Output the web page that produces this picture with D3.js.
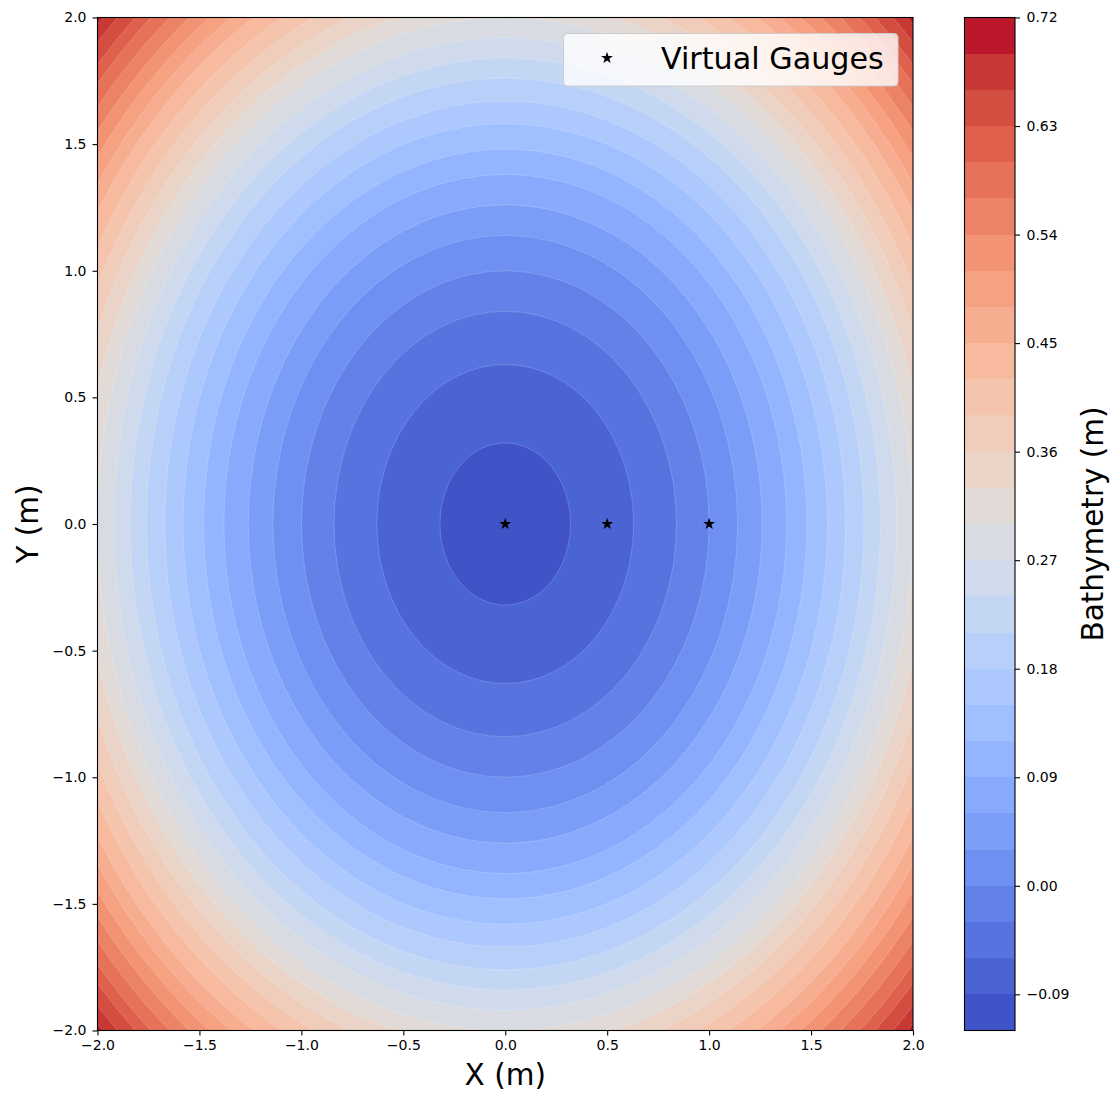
<!DOCTYPE html>
<html>
<head>
<meta charset="utf-8">
<script src="https://cdn.jsdelivr.net/npm/d3@7"></script>
<style>
  body { margin: 0; background: #fff; }
  text { font-family: "DejaVu Sans", sans-serif; }
</style>
</head>
<body>
<div id="chart"></div>
<script>
// contour levels (m), as on the colorbar
const levels = [-0.12, -0.09, -0.06, -0.03, 0.00, 0.03, 0.06, 0.09, 0.12, 0.15,
  0.18, 0.21, 0.24, 0.27, 0.30, 0.33, 0.36, 0.39, 0.42, 0.45,
  0.48, 0.51, 0.54, 0.57, 0.60, 0.63, 0.66, 0.69, 0.72];
// radius (m) at which each inner level (-0.09 ... 0.69) crosses
const contourRadii = [0.32, 0.63, 0.84, 1.00, 1.14, 1.26, 1.38, 1.48, 1.58, 1.67,
  1.76, 1.84, 1.92, 2.00, 2.07, 2.14, 2.21, 2.28, 2.35, 2.41,
  2.47, 2.53, 2.59, 2.65, 2.70, 2.76, 2.81];
const xTicks = [-2.0, -1.5, -1.0, -0.5, 0.0, 0.5, 1.0, 1.5, 2.0];
const yTicks = [-2.0, -1.5, -1.0, -0.5, 0.0, 0.5, 1.0, 1.5, 2.0];
const cbarTicks = [-0.09, 0.00, 0.09, 0.18, 0.27, 0.36, 0.45, 0.54, 0.63, 0.72];
const gaugeX = [0.0, 0.5, 1.0];
const gaugeY = [0.0, 0.0, 0.0];

// matplotlib coolwarm, 33 evenly spaced stops
const coolwarmStops = [
  [59,76,192],[68,90,204],[77,104,215],[87,117,225],[98,130,234],[108,142,241],
  [119,154,247],[130,165,251],[141,176,254],[152,185,255],[163,194,255],[174,201,253],
  [184,208,249],[194,213,244],[204,217,238],[213,219,230],[221,221,221],[229,216,209],
  [236,211,197],[241,204,185],[245,196,173],[247,187,160],[247,177,148],[247,166,135],
  [244,154,123],[241,141,111],[236,127,99],[229,112,88],[222,96,77],[213,80,66],
  [203,62,56],[192,40,47],[180,4,38]
];
const coolwarm = d3.scaleLinear()
  .domain(coolwarmStops.map((d, i) => i / (coolwarmStops.length - 1)))
  .range(coolwarmStops.map(c => `rgb(${c[0]},${c[1]},${c[2]})`))
  .interpolate(d3.interpolateRgb)
  .clamp(true);

const W = 1113, H = 1095;
const plot = {left: 97.5, right: 913, top: 17.5, bottom: 1030.5};
const cbar = {left: 964.5, right: 1015, top: 17.5, bottom: 1030.5};
const tickFont = 14, labelFont = 29.5;

const vmin = levels[0], vmax = levels[levels.length - 1];
const bandColor = i => coolwarm(((levels[i] + levels[i + 1]) / 2 - vmin) / (vmax - vmin));

const svg = d3.select("#chart").append("svg")
  .attr("width", W).attr("height", H);

const x = d3.scaleLinear().domain([-2, 2]).range([plot.left, plot.right]);
const y = d3.scaleLinear().domain([-2, 2]).range([plot.bottom, plot.top]);

svg.append("clipPath").attr("id", "clip")
  .append("rect")
  .attr("x", plot.left).attr("y", plot.top)
  .attr("width", plot.right - plot.left).attr("height", plot.bottom - plot.top);

const field = svg.append("g").attr("clip-path", "url(#clip)");

// outermost band fills the whole area, then nested ellipses on top
field.append("rect")
  .attr("x", plot.left).attr("y", plot.top)
  .attr("width", plot.right - plot.left).attr("height", plot.bottom - plot.top)
  .attr("fill", bandColor(levels.length - 2));

const rings = contourRadii.map((r, k) => ({r, k})).reverse();
field.selectAll("ellipse.band")
  .data(rings)
  .enter().append("ellipse")
  .attr("class", "band")
  .attr("cx", x(0)).attr("cy", y(0))
  .attr("rx", d => x(d.r) - x(0))
  .attr("ry", d => y(0) - y(d.r))
  .attr("fill", d => bandColor(d.k))
  .attr("stroke", "#fff")
  .attr("stroke-opacity", 0.3)
  .attr("stroke-width", 0.6);

// gauges
const star = d3.symbol().type(d3.symbolStar).size(44);
svg.append("g").selectAll("path")
  .data(gaugeX.map((gx, i) => [gx, gaugeY[i]]))
  .enter().append("path")
  .attr("d", star)
  .attr("transform", d => `translate(${x(d[0])},${y(d[1])})`)
  .attr("fill", "#000");

// axes
const fmt1 = d3.format(".1f");
const xAxis = svg.append("g")
  .attr("transform", `translate(0,${plot.bottom})`)
  .call(d3.axisBottom(x).tickValues(xTicks).tickFormat(fmt1).tickSize(5).tickPadding(5));
const yAxis = svg.append("g")
  .attr("transform", `translate(${plot.left},0)`)
  .call(d3.axisLeft(y).tickValues(yTicks).tickFormat(fmt1).tickSize(5).tickPadding(6));
[xAxis, yAxis].forEach(a => {
  a.select(".domain").remove();
  a.selectAll("line").attr("stroke", "#000").attr("stroke-width", 1.1);
  a.selectAll("text").attr("font-size", tickFont).attr("fill", "#000")
    .attr("font-family", "DejaVu Sans");
});

svg.append("rect")
  .attr("x", plot.left).attr("y", plot.top)
  .attr("width", plot.right - plot.left).attr("height", plot.bottom - plot.top)
  .attr("fill", "none").attr("stroke", "#000").attr("stroke-width", 1.1);

svg.append("text")
  .attr("x", (plot.left + plot.right) / 2).attr("y", 1085)
  .attr("text-anchor", "middle").attr("font-size", labelFont)
  .text("X (m)");
svg.append("text")
  .attr("transform", `translate(37.5,${(plot.top + plot.bottom) / 2}) rotate(-90)`)
  .attr("text-anchor", "middle").attr("font-size", labelFont)
  .text("Y (m)");

// legend
const leg = svg.append("g");
leg.append("rect")
  .attr("x", 563.5).attr("y", 33.5).attr("width", 334.5).attr("height", 52.5)
  .attr("rx", 4).attr("fill", "#fff").attr("fill-opacity", 0.8)
  .attr("stroke", "#ccc").attr("stroke-width", 1);
leg.append("path").attr("d", star)
  .attr("transform", "translate(607,58)").attr("fill", "#000");
leg.append("text").attr("x", 661).attr("y", 69)
  .attr("font-size", 30.2).text("Virtual Gauges");

// colorbar
const yc = d3.scaleLinear().domain([vmin, vmax]).range([cbar.bottom, cbar.top]);
svg.append("g").selectAll("rect")
  .data(d3.range(levels.length - 1))
  .enter().append("rect")
  .attr("x", cbar.left)
  .attr("y", i => yc(levels[i + 1]))
  .attr("width", cbar.right - cbar.left)
  .attr("height", i => yc(levels[i]) - yc(levels[i + 1]))
  .attr("fill", i => bandColor(i))
  .attr("shape-rendering", "crispEdges");
svg.append("rect")
  .attr("x", cbar.left).attr("y", cbar.top)
  .attr("width", cbar.right - cbar.left).attr("height", cbar.bottom - cbar.top)
  .attr("fill", "none").attr("stroke", "#000").attr("stroke-width", 1.1);
const cAxis = svg.append("g")
  .attr("transform", `translate(${cbar.right},0)`)
  .call(d3.axisRight(yc).tickValues(cbarTicks).tickFormat(d3.format(".2f")).tickSize(5).tickPadding(6.5));
cAxis.select(".domain").remove();
cAxis.selectAll("line").attr("stroke", "#000").attr("stroke-width", 1.1);
cAxis.selectAll("text").attr("font-size", tickFont).attr("fill", "#000")
  .attr("font-family", "DejaVu Sans");

svg.append("text")
  .attr("transform", `translate(1103,${(cbar.top + cbar.bottom) / 2}) rotate(-90)`)
  .attr("text-anchor", "middle").attr("font-size", labelFont)
  .text("Bathymetry (m)");
</script>
</body>
</html>
